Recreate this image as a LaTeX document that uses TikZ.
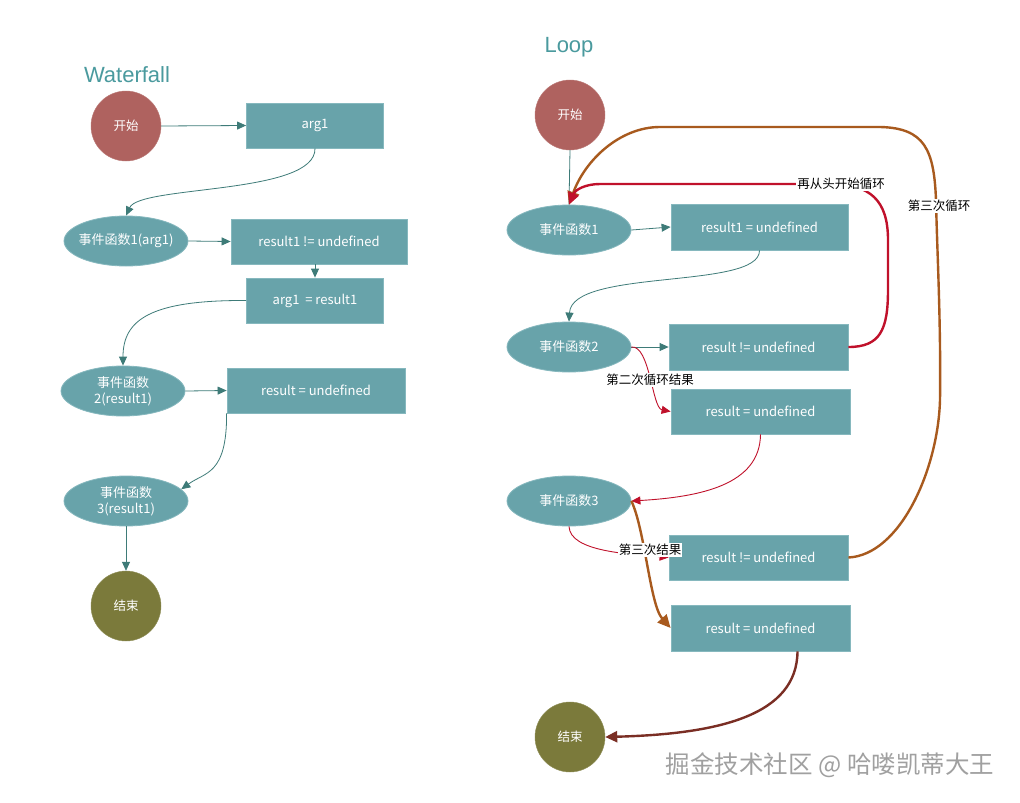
\documentclass[tikz,border=0pt]{standalone}
\usepackage{fontspec}
\setmainfont{Noto Sans CJK SC}
\newfontfamily\titlefont{Liberation Sans}
\usetikzlibrary{arrows.meta,shapes.geometric,calc}
\definecolor{boxfill}{HTML}{68A3AA}
\definecolor{boxline}{HTML}{86B8BE}
\definecolor{tealline}{HTML}{3E7B78}
\definecolor{startc}{HTML}{AF625F}
\definecolor{endc}{HTML}{7B7A3B}
\definecolor{titlec}{HTML}{4A9A9E}
\definecolor{redl}{HTML}{C0112B}
\definecolor{brownl}{HTML}{A85A1E}
\definecolor{darkbrown}{HTML}{7A2E24}
\definecolor{wmark}{HTML}{A0A0A0}
\tikzset{
  nodefont/.style={font=\fontsize{13}{16}\selectfont},
  box/.style={rectangle, fill=boxfill, draw=boxline, line width=0.8pt, text=white, nodefont, inner sep=0pt, minimum height=45pt},
  ell/.style={ellipse, fill=boxfill, draw=boxline, line width=0.8pt, minimum width=124pt, minimum height=50pt, inner sep=0pt},
  elltext/.style={text=white, nodefont, align=center},
  startnode/.style={circle, fill=startc, draw=startc!85!white, minimum size=70pt, inner sep=0pt, text=white, font=\fontsize{12.5}{15}\selectfont},
  endnode/.style={circle, fill=endc, draw=endc!85!white, minimum size=70pt, inner sep=0pt, text=white, font=\fontsize{12.5}{15}\selectfont},
  titlenode/.style={text=titlec, font=\titlefont\fontsize{22}{26}\selectfont},
  tl/.style={draw=tealline, line width=0.8pt, -{Triangle[length=9pt,width=8pt]}},
  redthin/.style={draw=redl, line width=0.9pt, -{Triangle[length=9pt,width=8pt]}},
  redthick/.style={draw=redl, line width=2.4pt, -{Triangle[length=12pt,width=11pt]}},
  brownthick/.style={draw=brownl, line width=2.4pt, -{Triangle[length=13pt,width=12pt]}},
  darkthick/.style={draw=darkbrown, line width=2.4pt, -{Triangle[length=12pt,width=11pt]}},
  lbl/.style={fill=white, inner sep=1pt, text=black, font=\fontsize{12.5}{15}\selectfont},
}
\begin{document}
\begin{tikzpicture}[x=1pt,y=-1pt]
\fill[white] (0,0) rectangle (1020,803);
\useasboundingbox (0,0) rectangle (1020,803);

% ---------- Waterfall ----------
\node[titlenode] (t1) at (127,75) {Waterfall};
\node[startnode] (s1) at (126,126) {开始};
\node[box, minimum width=137pt] (arg1) at (315,125.5) {arg1};
\node[ell, label={[elltext]center:事件函数1(arg1)}] (e1) at (126,241) {};
\node[box, minimum width=176pt] (r1l) at (319,241.5) {result1 != undefined};
\node[box, minimum width=137pt] (a2) at (315,300.5) {arg1~ = result1};
\node[ell, label={[elltext]center:事件函数\\2(result1)}] (e2) at (123,391) {};
\node[box, minimum width=178pt] (ru) at (316,390.5) {result = undefined};
\node[ell, label={[elltext]center:事件函数\\3(result1)}] (e3) at (126,501) {};
\node[endnode] (end1) at (126,606) {结束};

\draw[tl] (s1.east) -- (arg1.west);
\draw[tl] (arg1.south) .. controls (316,195) and (140,185) .. (e1.north);
\draw[tl] (e1.east) -- (r1l.west);
\draw[tl] (a2.north |- r1l.south) -- (a2.north);
\draw[tl] (a2.west) .. controls (150,300) and (123,320) .. (e2.north);
\draw[tl] (e2.east) -- (ru.west);
\draw[tl] (ru.south west) .. controls (227,475) and (205,472) .. (e3.12);
\draw[tl] (e3.south) -- (end1.north);

% ---------- Loop ----------
\node[titlenode] (t2) at (569,47) {Loop};
\node[startnode] (s2) at (570,115) {开始};
\node[ell, label={[elltext]center:事件函数1}] (f1) at (569,230) {};
\node[box, minimum width=177pt, minimum height=46pt] (r1) at (759.5,227) {result1 = undefined};
\node[ell, label={[elltext]center:事件函数2}] (f2) at (569,347) {};
\node[box, minimum width=179pt, minimum height=46pt] (r2) at (758.5,347) {result != undefined};
\node[box, minimum width=179pt] (r2b) at (760.5,411.5) {result = undefined};
\node[ell, label={[elltext]center:事件函数3}] (f3) at (569,501) {};
\node[box, minimum width=179pt] (r3) at (758.5,557.5) {result != undefined};
\node[box, minimum width=179pt, minimum height=46pt] (r4) at (760.5,628) {result = undefined};
\node[endnode] (end2) at (570,737) {结束};

\draw[draw=tealline, line width=0.8pt] (s2.south) -- (f1.north);
\draw[tl] (f1.east) -- (r1.west);
\draw[tl] (r1.south) .. controls (760,290) and (572,268) .. (f2.north);
\draw[tl] (f2.east) -- (r2.west);

% brown third loop
\draw[brownthick] (r3.east) .. controls (900,555) and (938,470) .. (940,400)
   .. controls (941,320) and (937,250) .. (936,200)
   .. controls (934,150) and (925,128) .. (880,127) -- (660,127)
   .. controls (620,127) and (585,160) .. (f1.north);
\node[lbl] (l3) at (939,206) {第三次循环};

% red restart loop
\draw[redthick] (r2.east) .. controls (880,347) and (888,330) .. (888,290) -- (888,240)
   .. controls (888,200) and (870,184) .. (830,184) -- (600,184)
   .. controls (585,184) and (575,190) .. (f1.north);
\node[lbl] (l1) at (841,184) {再从头开始循环};

% red thin second loop result
\draw[redthin] (f2.east) .. controls (650,345) and (652,408) .. (r2b.west);
\node[lbl] (l2) at (650,380) {第二次循环结果};
\draw[redthin] (r2b.south) .. controls (760,485) and (700,497) .. (f3.east);

% third result
\draw[redthin] (f3.south) .. controls (570,552) and (630,554) .. (r3.west);
\draw[brownthick] (f3.east) .. controls (645,530) and (650,605) .. (r4.west);
\node[lbl] (l4) at (650,550) {第三次结果};

\draw[darkthick] ([xshift=37pt]r4.south) .. controls (797,715) and (720,734) .. (end2.east);

% watermark
\node[text=wmark, font=\fontsize{24.5}{28}\selectfont] (wm) at (830,765) {掘金技术社区 @ 哈喽凯蒂大王};
\end{tikzpicture}
\end{document}
